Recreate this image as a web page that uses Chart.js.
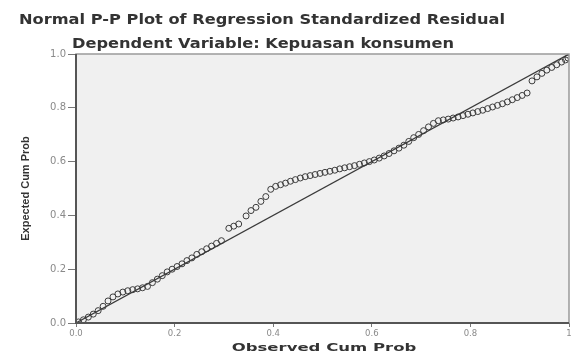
<!DOCTYPE html>
<html lang="en">
<head>
    <meta charset="UTF-8">
    <title>Normal P-P Plot</title>
    <script src="https://cdn.jsdelivr.net/npm/chart.js"></script>
    <style>
        html, body {
            margin: 0;
            padding: 0;
            background: #ffffff;
        }
        #wrap {
            width: 574px;
            height: 354px;
        }
    </style>
</head>
<body>
    <div id="wrap"><canvas id="ppChart" width="574" height="354"></canvas></div>

    <script>
        // observed vs expected cumulative probability
        const observedCumProb = [
            0.005, 0.015, 0.025, 0.035, 0.045, 0.055,
            0.065, 0.075, 0.085, 0.095, 0.105, 0.115, 0.125, 0.135, 0.145,
            0.155, 0.165, 0.175, 0.185, 0.195, 0.205, 0.215, 0.225, 0.235, 0.245, 0.255, 0.265, 0.275, 0.285, 0.295,
            0.31, 0.32, 0.33, 0.345, 0.355, 0.365, 0.375, 0.385, 0.395, 0.405,
            0.415, 0.425, 0.435, 0.445, 0.455, 0.465, 0.475, 0.485, 0.495, 0.505, 0.515, 0.525, 0.535, 0.545, 0.555, 0.565, 0.575, 0.585,
            0.595, 0.605, 0.615, 0.625, 0.635, 0.645, 0.655, 0.665, 0.675, 0.685, 0.695, 0.705, 0.715, 0.725, 0.735,
            0.745, 0.755, 0.765, 0.775, 0.785, 0.795, 0.805, 0.815, 0.825, 0.835, 0.845, 0.855, 0.865, 0.875, 0.885, 0.895, 0.905, 0.915,
            0.925, 0.935, 0.945, 0.955, 0.965, 0.975, 0.985, 0.993, 0.998
        ];
        const expectedCumProb = [
            0.004, 0.012, 0.022, 0.033, 0.046, 0.062,
            0.082, 0.097, 0.108, 0.115, 0.12, 0.124, 0.127, 0.131, 0.136,
            0.15, 0.163, 0.176, 0.19, 0.2, 0.21, 0.22, 0.232, 0.242, 0.255, 0.265, 0.276, 0.286, 0.296, 0.306,
            0.352, 0.36, 0.368, 0.398, 0.418, 0.43, 0.452, 0.47, 0.497, 0.508,
            0.514, 0.52, 0.527, 0.533, 0.539, 0.544, 0.548, 0.552, 0.556, 0.56, 0.564, 0.568, 0.573, 0.577, 0.581, 0.585, 0.59, 0.595,
            0.6, 0.606, 0.613, 0.621, 0.63, 0.64, 0.65, 0.661, 0.675, 0.689, 0.701, 0.715, 0.729, 0.742, 0.752,
            0.755, 0.758, 0.762, 0.766, 0.771, 0.776, 0.781, 0.786, 0.791, 0.797, 0.803, 0.809, 0.815, 0.822, 0.83, 0.838, 0.846, 0.855,
            0.9, 0.915, 0.928, 0.94, 0.95, 0.96, 0.97, 0.978, 0.985
        ];
        const refLineX = [0, 1];
        const refLineY = [0, 1];
        const xTickLabels = ['0.0', '0.2', '0.4', '0.6', '0.8', '1'];
        const yTickLabels = ['0.0', '0.2', '0.4', '0.6', '0.8', '1.0'];
        const titleLines = [
            'Normal P-P Plot of Regression Standardized Residual',
            'Dependent Variable: Kepuasan konsumen'
        ];
        const xAxisTitle = 'Observed Cum Prob';
        const yAxisTitle = 'Expected Cum Prob';

        const points = observedCumProb.map((x, i) => ({ x: x, y: expectedCumProb[i] }));
        const diagonal = refLineX.map((x, i) => ({ x: x, y: refLineY[i] }));

        // the source picture is stretched sideways, so wide text is squashed back in
        function wideText(ctx, text, x, y, font, stretch) {
            ctx.save();
            ctx.font = font;
            ctx.textAlign = 'center';
            ctx.textBaseline = 'middle';
            ctx.translate(x, y);
            ctx.scale(stretch, 1);
            ctx.fillText(text, 0, 0);
            ctx.restore();
        }

        // grey plot panel + frame, titles
        const panelPlugin = {
            id: 'panel',
            beforeDraw(chart) {
                const { ctx, chartArea: a } = chart;
                ctx.save();
                ctx.fillStyle = '#f0f0f0';
                ctx.fillRect(a.left, a.top, a.right - a.left, a.bottom - a.top);
                ctx.restore();
            },
            afterDraw(chart) {
                const { ctx, chartArea: a } = chart;
                ctx.save();
                ctx.strokeStyle = '#9a9a9a';
                ctx.lineWidth = 1.5;
                ctx.strokeRect(a.left, a.top, a.right - a.left, a.bottom - a.top);
                ctx.strokeStyle = '#555';
                ctx.lineWidth = 2;
                ctx.beginPath();
                ctx.moveTo(a.left, a.top);
                ctx.lineTo(a.left, a.bottom);
                ctx.lineTo(a.right, a.bottom);
                ctx.stroke();
                ctx.fillStyle = '#333';
                wideText(ctx, titleLines[0], 262, 20, 'bold 13.5px "DejaVu Sans"', 1.2);
                wideText(ctx, titleLines[1], 263, 44, 'bold 13.5px "DejaVu Sans"', 1.2);
                wideText(ctx, xAxisTitle, 324, 348, 'bold 11px "DejaVu Sans"', 1.5);
                ctx.restore();
            }
        };

        const ctx = document.getElementById('ppChart').getContext('2d');
        const chart = new Chart(ctx, {
            type: 'scatter',
            data: {
                datasets: [{
                    label: 'Reference',
                    type: 'line',
                    data: diagonal,
                    borderColor: '#3a3a3a',
                    borderWidth: 1.2,
                    pointRadius: 0,
                    fill: false
                }, {
                    label: 'Residual',
                    data: points,
                    pointStyle: 'circle',
                    pointRadius: 3,
                    borderColor: '#3c3c3c',
                    borderWidth: 1,
                    backgroundColor: 'rgba(0,0,0,0)'
                }]
            },
            options: {
                responsive: false,
                animation: false,
                layout: {
                    padding: { top: 54, right: 4, bottom: 0, left: 0 }
                },
                plugins: {
                    legend: { display: false },
                    tooltip: { enabled: false }
                },
                scales: {
                    x: {
                        type: 'linear',
                        min: 0,
                        max: 1,
                        afterFit(scale) {
                            scale.height = 31;
                            scale.paddingLeft = 0;
                            scale.paddingRight = 0;
                        },
                        ticks: {
                            stepSize: 0.2,
                            padding: 2,
                            color: '#8a8a8a',
                            font: { family: 'DejaVu Sans', size: 8.5 },
                            maxRotation: 0,
                            callback: (v, i) => xTickLabels[i]
                        },
                        grid: {
                            drawOnChartArea: false,
                            tickLength: 4,
                            color: '#777'
                        },
                        border: { display: false }
                    },
                    y: {
                        type: 'linear',
                        min: 0,
                        max: 1,
                        afterFit(scale) {
                            scale.width = 76;
                        },
                        ticks: {
                            stepSize: 0.2,
                            padding: 2,
                            color: '#8a8a8a',
                            font: { family: 'DejaVu Sans', size: 10 },
                            callback: (v, i) => yTickLabels[i]
                        },
                        grid: {
                            drawOnChartArea: false,
                            tickLength: 8,
                            color: '#777'
                        },
                        border: { display: false },
                        title: {
                            display: true,
                            text: yAxisTitle,
                            color: '#333',
                            font: { family: 'Liberation Sans', size: 11, weight: 'bold' },
                            padding: { top: 19, bottom: 0 }
                        }
                    }
                }
            },
            plugins: [panelPlugin]
        });
    </script>
</body>
</html>
